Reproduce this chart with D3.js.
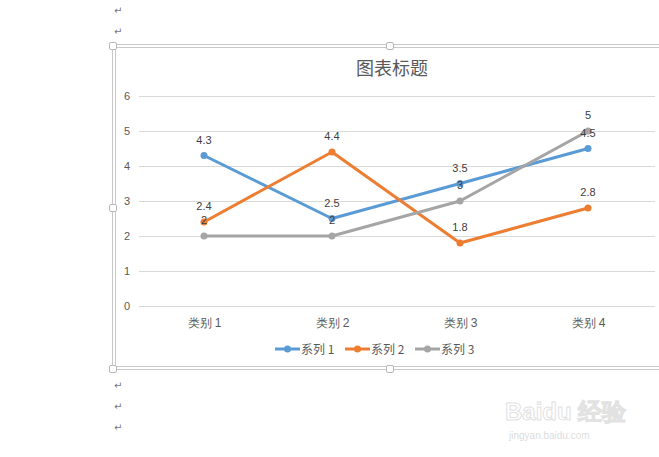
<!DOCTYPE html>
<html><head><meta charset="utf-8">
<script src="https://cdn.jsdelivr.net/npm/d3@7/dist/d3.min.js"></script>
<style>body{margin:0;background:#fff}svg{display:block;font-family:"Noto Sans CJK SC","DejaVu Sans",sans-serif}</style>
</head><body>
<script>
const categories = ["类别 1", "类别 2", "类别 3", "类别 4"];
const seriesNames = ["系列 1", "系列 2", "系列 3"];
const series1 = [4.3, 2.5, 3.5, 4.5];
const series2 = [2.4, 4.4, 1.8, 2.8];
const series3 = [2, 2, 3, 5];
const yTicks = [0, 1, 2, 3, 4, 5, 6];
const colors = ["#5B9BD5", "#ED7D31", "#A5A5A5"];
const title = "图表标题";

const W = 659, H = 457;
const svg = d3.select("body").append("svg").attr("width", W).attr("height", H);

// paragraph marks
[10, 31, 385, 406, 427].forEach(y => svg.append("text").attr("x", 114).attr("y", y + 4)
  .attr("font-size", 10).attr("fill", "#777").attr("font-family", "DejaVu Sans").text("↵"));

// frame (double border)
const fr = svg.append("g");
fr.append("rect").attr("x", 112.5).attr("y", 44.5).attr("width", 560).attr("height", 325).attr("fill", "none").attr("stroke", "#c8c8c8");
fr.append("rect").attr("x", 115.5).attr("y", 47.5).attr("width", 560).attr("height", 319).attr("fill", "none").attr("stroke", "#c8c8c8");
[[113,46],[390,46],[113,208],[113,369],[390,369]].forEach(([x,y]) =>
  fr.append("rect").attr("x", x - 3.5).attr("y", y - 3.5).attr("width", 7).attr("height", 7).attr("rx", 1.5)
    .attr("fill", "#fff").attr("stroke", "#b8b8b8"));

const x = d3.scalePoint().domain(categories).range([204, 588]).padding(0);
const y = d3.scaleLinear().domain([0, 6]).range([306, 96]);

// gridlines
const yAxis = d3.axisLeft(y).tickValues(yTicks).tickSize(-(655 - 139)).tickPadding(10).tickFormat(d3.format("d"));
const gy = svg.append("g").attr("transform", "translate(139,0)").call(yAxis);
gy.select(".domain").remove();
gy.selectAll(".tick line").attr("stroke", "#d9d9d9");
gy.selectAll(".tick text").attr("fill", "#595959").attr("font-size", 11).attr("font-family", "Liberation Sans, Arial, sans-serif").attr("x", -9);

// category axis
const xAxis = d3.axisBottom(x).tickSize(0).tickPadding(10);
const gx = svg.append("g").attr("transform", "translate(0,306)").call(xAxis);
gx.select(".domain").remove();
gx.selectAll(".tick text").attr("fill", "#595959").attr("font-size", 12).attr("dy", "0.9em");

// title
svg.append("text").attr("x", 392).attr("y", 75).attr("text-anchor", "middle").attr("font-size", 18)
  .attr("fill", "#595959").text(title);

const all = [series1, series2, series3];
const line = d3.line().x((d, i) => x(categories[i])).y(d => y(d));
all.forEach((s, k) => {
  svg.append("path").datum(s).attr("d", line).attr("fill", "none").attr("stroke", colors[k])
    .attr("stroke-width", 3).attr("stroke-linejoin", "round").attr("stroke-linecap", "round");
  svg.selectAll(null).data(s).enter().append("circle").attr("cx", (d, i) => x(categories[i])).attr("cy", d => y(d))
    .attr("r", 3.5).attr("fill", colors[k]);
});
all.forEach((s, k) => {
  svg.selectAll(null).data(s).enter().append("text").attr("x", (d, i) => x(categories[i])).attr("y", d => y(d) - 12)
    .attr("text-anchor", "middle").attr("font-size", 11).attr("fill", "#404040")
    .attr("font-family", "Liberation Sans, Arial, sans-serif").text(d => d);
});

// legend
const legX = [275, 345, 415];
seriesNames.forEach((n, k) => {
  const g = svg.append("g").attr("transform", `translate(${legX[k]},349)`);
  g.append("line").attr("x1", 0).attr("x2", 25).attr("stroke", colors[k]).attr("stroke-width", 3);
  g.append("circle").attr("cx", 12.5).attr("r", 3.5).attr("fill", colors[k]);
  g.append("text").attr("x", 26).attr("y", 4.5).attr("font-size", 12).attr("fill", "#595959").text(n);
});

// watermark
svg.append("text").attr("x", 505).attr("y", 420).attr("font-size", 24).attr("font-weight", "bold")
  .attr("fill", "none").attr("stroke", "#e2e2e2").attr("stroke-width", 1).attr("font-family", "Liberation Sans, Arial").text("Baidu 经验");
svg.append("text").attr("x", 509).attr("y", 439).attr("font-size", 10)
  .attr("fill", "#dddddd").attr("font-family", "Liberation Sans, Arial").text("jingyan.baidu.com");
</script>
</body></html>
